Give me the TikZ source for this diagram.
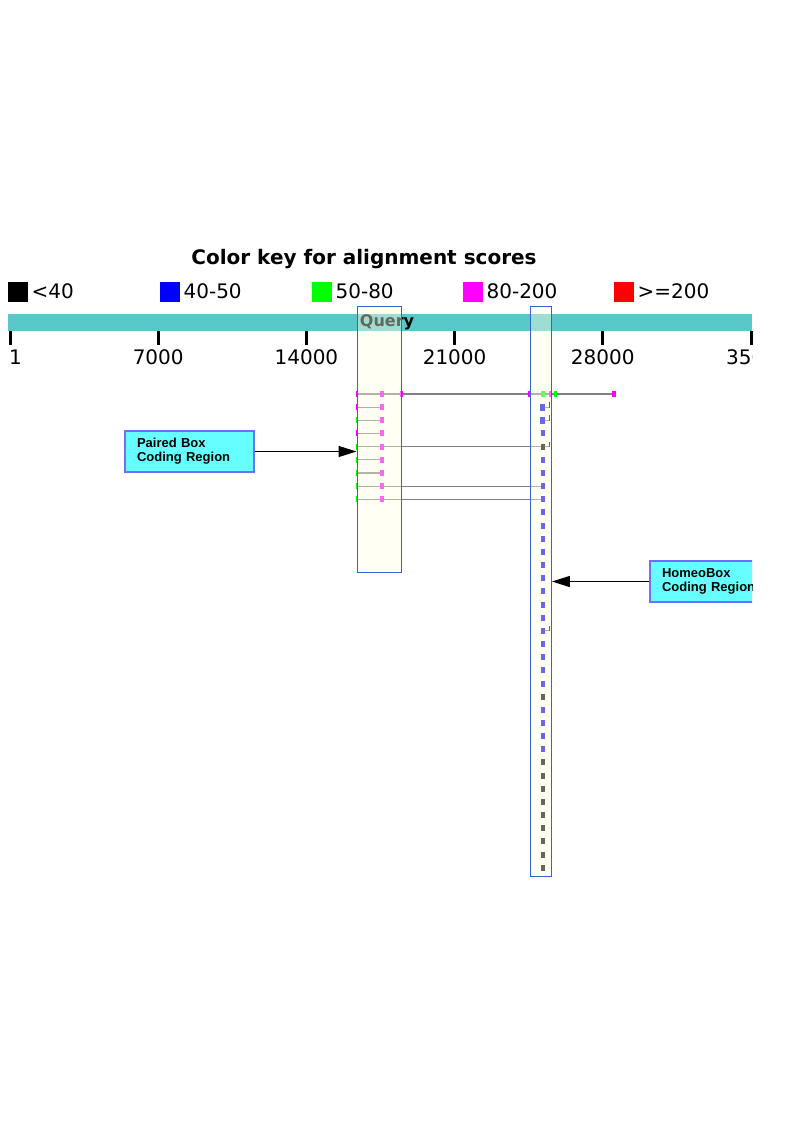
\documentclass[tikz,border=0pt]{standalone}
\usepackage{fontspec}
\setmainfont{DejaVu Sans}
\newfontfamily\calloutfont{Liberation Sans}
\usetikzlibrary{arrows.meta,positioning}
\definecolor{querybar}{RGB}{90,200,200}
\definecolor{hifill}{RGB}{255,255,224}
\definecolor{hiedge}{RGB}{51,102,204}
\definecolor{calloutfill}{RGB}{102,255,255}
\definecolor{calloutedge}{RGB}{110,110,255}
\definecolor{hitgray}{RGB}{128,128,128}
\definecolor{keyblack}{RGB}{0,0,0}
\definecolor{keyblue}{RGB}{0,0,255}
\definecolor{keygreen}{RGB}{0,255,0}
\definecolor{keymagenta}{RGB}{255,0,255}
\definecolor{keyred}{RGB}{255,0,0}
\newcommand\hsp[5]{\fill[#3] ({#1-#4/2},{394+13.16*#2-#5/2}) rectangle ++(#4,#5);}
\newcommand\hspline[3]{\draw[hitline] (#1,{394+13.16*#3}) -- (#2,{394+13.16*#3});}
\newcommand\hsptick[1]{\fill[keyblack] (549,{394+13.16*#1-5}) rectangle ++(1.3,5.5);}

\begin{document}
\begin{tikzpicture}[x=1pt, y=-1pt,
    keytext/.style={font=\fontsize{20}{24}\selectfont, inner sep=0pt},
    keybox/.style={minimum size=20pt, inner sep=0pt, anchor=north west},
    hitline/.style={draw=hitgray, line width=1.2pt},
    hilite/.style={draw=hiedge, line width=1.2pt, fill=hifill, fill opacity=0.4, anchor=north west, inner sep=0pt},
    callout/.style={draw=calloutedge, line width=2pt, fill=calloutfill, anchor=north west,
      minimum width=129pt, minimum height=41pt, text width=105pt, inner xsep=12pt, align=left,
      font=\calloutfont\bfseries\fontsize{13}{14}\selectfont},
    pointer/.style={-{Triangle[length=18pt,width=11pt]}, line width=1.3pt}]
\useasboundingbox (0,0) rectangle (794,1123);

\node[font=\bfseries\fontsize{20}{24}\selectfont] (keytitle) at (364,259.5) {Color key for alignment scores};
\foreach \c/\t/\x [count=\i] in {keyblack/{<40}/8, keyblue/{40-50}/160, keygreen/{50-80}/312, keymagenta/{80-200}/463, keyred/{>=200}/614} {
  \node[keybox, fill=\c] (key\i) at (\x,281.5) {};
  \node[keytext, right=3pt of key\i] (keylabel\i) {\t};
}

\fill[querybar] (8,314) rectangle (752,331);
\node[font=\bfseries\fontsize{16}{19}\selectfont, inner sep=0pt] (querylabel) at (387,322.5) {Query};
\foreach \x in {10,158.2,306.4,454.6,602.8,751}
  \draw[line width=3pt] (\x,331) -- (\x,345);
\node[keytext, anchor=west] (tick1) at (9,357.5) {1};
\foreach \v/\x in {7000/158.2,14000/306.4,21000/454.6,28000/602.8}
  \node[keytext] (tick\v) at (\x,357.5) {\v};

\hspline{357}{614}{0}
\foreach \r in {1,2,3,5,6} {\hspline{357}{381.5}{\r}}
\foreach \r in {4,7,8} {\hspline{357}{543}{\r}}
\foreach \r in {1,2,4,18} {\hspline{543}{549.5}{\r} \hsptick{\r}}

\hsp{357}{0}{keymagenta}{2}{6} \hsp{381.5}{0}{keymagenta}{4}{6} \hsp{401}{0}{keymagenta}{3}{6}
\hsp{529.2}{0}{keymagenta}{2.5}{6} \hsp{543}{0}{keygreen}{4}{6} \hsp{550.5}{0}{keymagenta}{3}{6}
\hsp{555.3}{0}{keygreen}{2.5}{6} \hsp{614}{0}{keymagenta}{4}{6}
\foreach \r/\c in {1/keymagenta,2/keygreen,3/keymagenta,4/keygreen,5/keygreen,6/keygreen,7/keygreen,8/keygreen} {
  \hsp{357}{\r}{\c}{2}{6} \hsp{381.5}{\r}{keymagenta}{4}{6}
}
\foreach \r in {1,2} {\hsp{542.8}{\r}{keyblue}{5}{7}}
\foreach \r in {3,5,6,...,22,24,25,26,27} {\hsp{543}{\r}{keyblue}{4}{6}}
\foreach \r in {4,23,28,29,...,36} {\hsp{543}{\r}{keyblack}{4}{6}}

\node[hilite, minimum width=44.5pt, minimum height=266pt] (pairedcol) at (356.5,306) {};
\node[hilite, minimum width=20.5pt, minimum height=570pt] (homeocol) at (530.2,306) {};

\node[callout] (pairedbox) at (124,430) {Paired Box\\Coding Region};
\begin{scope}
  \clip (0,0) rectangle (752,1123);
  \node[callout] (homeobox) at (649,560) {HomeoBox\\Coding Region};
  \node[keytext, anchor=west] (tick35000) at (726,357.5) {35000};
\end{scope}
\draw[pointer] (pairedbox.east) -- (pairedbox.east -| pairedcol.west);
\draw[pointer] (homeobox.west) -- (homeobox.west -| homeocol.east);
\end{tikzpicture}
\end{document}
